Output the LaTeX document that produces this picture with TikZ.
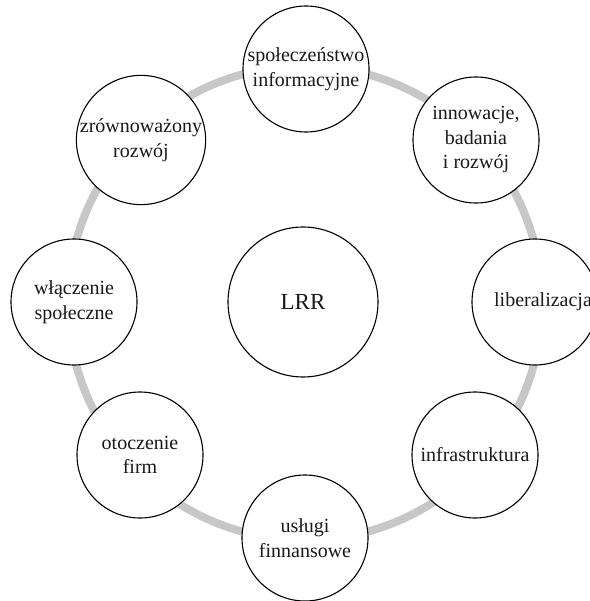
\documentclass[tikz,border=0pt]{standalone}
\usepackage{fontspec}
\setmainfont{Liberation Serif}
\begin{document}
\begin{tikzpicture}[x=1pt,y=-1pt,
  topic/.style={circle, draw=black, line width=1.1pt, fill=white,
    minimum size=126pt, inner sep=0pt, align=center,
    font=\fontsize{20}{24.5}\selectfont, text=black!90},
  hub/.style={topic, minimum size=150pt, font=\fontsize{23}{27}\selectfont},
  caption/.style={inner sep=0pt, font=\fontsize{20}{24.5}\selectfont, text=black!90},
  ringline/.style={draw=black!22, line width=8pt}]
\useasboundingbox (0,0) rectangle (589,601);
% grey ring linking the topics
\coordinate (centre) at (305,303);
\draw[ringline] (centre) circle[radius=237pt];
% central node
\node[hub] (lrr) at (303,302) {LRR};
% topics around the ring
\node[topic] (info) at (306,69) {społeczeństwo\\informacyjne};
\node[topic] (inno) at (476,140) {innowacje,\\badania\\i rozwój};
\node[topic] (lib)  at (535,302) {};
\node[caption] (libtext) at ([xshift=8pt]lib.center) {liberalizacja};
\node[topic] (infra) at (475,455) {infrastruktura};
\node[topic] (fin)  at (305,538) {usługi\\finnansowe};
\node[topic] (firm) at (140,455) {otoczenie\\firm};
\node[topic] (incl) at (74,302) {włączenie\\społeczne};
\node[topic] (sust) at (141,140) {zrównoważony\\rozwój};
\end{tikzpicture}
\end{document}
